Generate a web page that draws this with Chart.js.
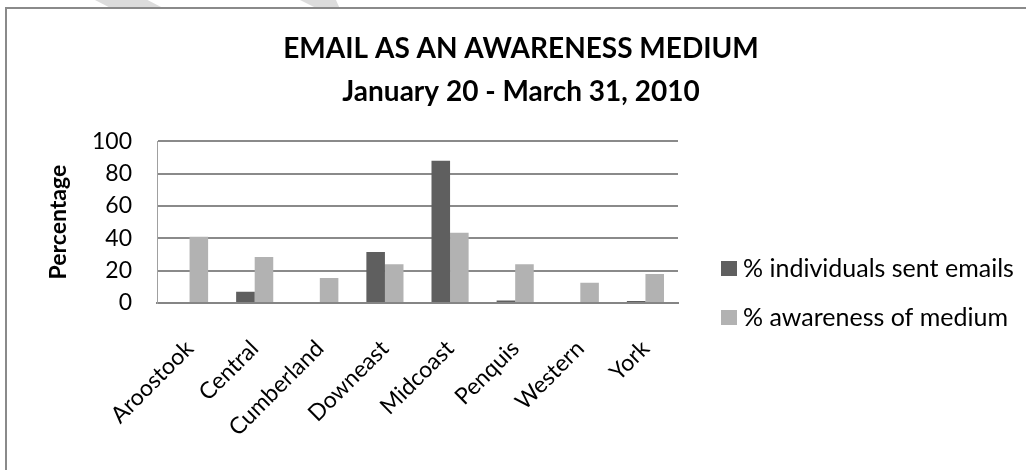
<!DOCTYPE html>
<html>
<head>
<meta charset="utf-8">
<script src="https://cdn.jsdelivr.net/npm/chart.js@4.4.1/dist/chart.umd.min.js"></script>
<style>
  html, body { margin: 0; padding: 0; background: #fff; overflow: hidden; }
  #wrap { position: relative; width: 1026px; height: 470px; overflow: hidden; }
  .mark { position: absolute; top: 0; height: 9px; background: #dcdcdc; }
  #m1 { left: 95px; width: 70px; clip-path: polygon(0 0, 75% 0, 100% 100%, 25% 100%); }
  #m2 { left: 300px; width: 40px; clip-path: polygon(0 0, 90% 0, 100% 100%, 45% 100%); }
  #frame { position: absolute; left: 5px; top: 7px; width: 1100px; height: 600px;
           border-left: 2px solid #8a8a8a; border-top: 2px solid #8a8a8a; }
  canvas { position: absolute; left: 0; top: 0; }
</style>
</head>
<body>
<div id="wrap">
  <div class="mark" id="m1"></div>
  <div class="mark" id="m2"></div>
  <div id="frame"></div>
  <canvas id="myChart" width="1026" height="470"></canvas>
</div>
<script>
var regions = ['Aroostook', 'Central', 'Cumberland', 'Downeast', 'Midcoast', 'Penquis', 'Western', 'York'];
var sentEmails = [0, 7, 0, 31.5, 88, 1.6, 0.6, 1.2];
var awareness = [41, 28.5, 15.5, 24, 43.5, 24, 12.5, 18];
var yTicks = [0, 20, 40, 60, 80, 100];

var FONT = 'Lato, "Open Sans", sans-serif';

// legend drawn to the right of the plot, Excel style
var sideLegend = {
    id: 'sideLegend',
    afterDraw: function (chart) {
        var ctx = chart.ctx;
        var x = chart.chartArea.right + 43;
        var rows = [268, 317];
        ctx.save();
        ctx.font = '25px ' + FONT;
        ctx.textBaseline = 'middle';
        ctx.textAlign = 'left';
        chart.data.datasets.forEach(function (ds, i) {
            ctx.fillStyle = ds.backgroundColor;
            ctx.fillRect(x, rows[i] - 7, 16, 15);
            ctx.fillStyle = '#000';
            ctx.fillText(ds.label, x + 22, rows[i] + 1);
        });
        ctx.restore();
    }
};

var ctx = document.getElementById('myChart').getContext('2d');
var myChart = new Chart(ctx, {
    type: 'bar',
    data: {
        labels: regions,
        datasets: [
            { label: '% individuals sent emails', data: sentEmails, backgroundColor: '#5f5f5f', yAxisID: 'y' },
            { label: '% awareness of medium', data: awareness, backgroundColor: '#b2b2b2', yAxisID: 'y' }
        ]
    },
    options: {
        responsive: false,
        animation: false,
        categoryPercentage: 0.57,
        barPercentage: 1,
        layout: { padding: { left: 16, right: 0, top: 0, bottom: 0 } },
        plugins: {
            legend: { display: false },
            tooltip: { enabled: false },
            title: {
                display: true,
                text: ['EMAIL AS AN AWARENESS MEDIUM', 'January 20 - March 31, 2010'],
                color: '#000',
                font: { family: FONT, size: 28, weight: 'bold', lineHeight: 1.54 },
                padding: { top: 27, bottom: 28 }
            }
        },
        scales: {
            x: {
                grid: { display: false, drawTicks: false },
                border: { color: '#858585', width: 2 },
                ticks: {
                    color: '#000',
                    font: { family: FONT, size: 23 },
                    maxRotation: 45,
                    minRotation: 45,
                    padding: 32
                },
                afterFit: function (scale) { scale.height = 167; }
            },
            y: {
                min: 0,
                max: 100,
                afterBuildTicks: function (scale) {
                    scale.ticks = yTicks.map(function (v) { return { value: v }; });
                },
                grid: { color: '#8a8a8a', lineWidth: 2, drawTicks: false },
                border: { color: '#a0a0a0', width: 1 },
                ticks: {
                    color: '#000',
                    font: { family: FONT, size: 23 },
                    padding: 25
                },
                title: {
                    display: true,
                    text: 'Percentage',
                    color: '#000',
                    font: { family: FONT, size: 23, weight: 'bold' },
                    padding: { top: 29, bottom: 0 }
                },
                afterFit: function (scale) { scale.width = 141; }
            },
            // empty column on the right that holds the legend
            side: {
                type: 'linear',
                position: 'right',
                grid: { display: false, drawTicks: false },
                border: { display: false },
                ticks: { display: false },
                afterFit: function (scale) { scale.width = 348; }
            }
        }
    },
    plugins: [sideLegend]
});
</script>
</body>
</html>
